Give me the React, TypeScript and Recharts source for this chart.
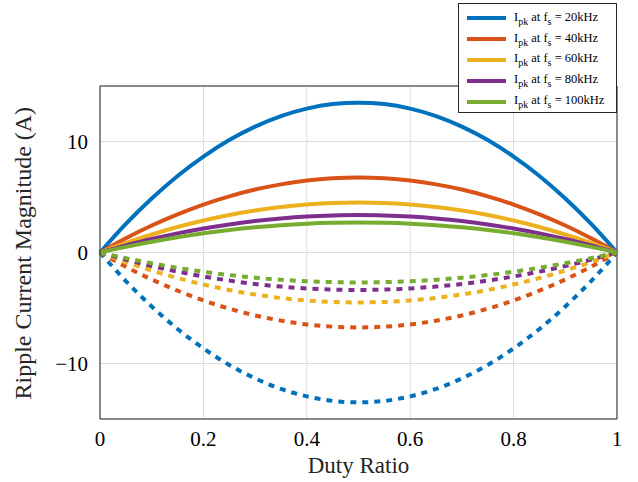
import { CartesianGrid, Legend, Line, LineChart, ReferenceLine, XAxis, YAxis } from "recharts"

const duty = [0, 0.05, 0.1, 0.15, 0.2, 0.25, 0.3, 0.35, 0.4, 0.45, 0.5, 0.55, 0.6, 0.65, 0.7, 0.75, 0.8, 0.85, 0.9, 0.95, 1]

const pk20 = [0, 2.57, 4.86, 6.89, 8.64, 10.13, 11.34, 12.29, 12.96, 13.37, 13.5, 13.37, 12.96, 12.29, 11.34, 10.13, 8.64, 6.89, 4.86, 2.57, 0]
const pk40 = [0, 1.28, 2.43, 3.44, 4.32, 5.06, 5.67, 6.14, 6.48, 6.68, 6.75, 6.68, 6.48, 6.14, 5.67, 5.06, 4.32, 3.44, 2.43, 1.28, 0]
const pk60 = [0, 0.86, 1.62, 2.3, 2.88, 3.38, 3.78, 4.1, 4.32, 4.46, 4.5, 4.46, 4.32, 4.1, 3.78, 3.38, 2.88, 2.3, 1.62, 0.86, 0]
const pk80 = [0, 0.64, 1.22, 1.72, 2.16, 2.53, 2.84, 3.07, 3.24, 3.34, 3.38, 3.34, 3.24, 3.07, 2.84, 2.53, 2.16, 1.72, 1.22, 0.64, 0]
const pk100 = [0, 0.51, 0.97, 1.38, 1.73, 2.03, 2.27, 2.46, 2.59, 2.67, 2.7, 2.67, 2.59, 2.46, 2.27, 2.03, 1.73, 1.38, 0.97, 0.51, 0]

const neg20 = [0, -2.57, -4.86, -6.89, -8.64, -10.13, -11.34, -12.29, -12.96, -13.37, -13.5, -13.37, -12.96, -12.29, -11.34, -10.13, -8.64, -6.89, -4.86, -2.57, 0]
const neg40 = [0, -1.28, -2.43, -3.44, -4.32, -5.06, -5.67, -6.14, -6.48, -6.68, -6.75, -6.68, -6.48, -6.14, -5.67, -5.06, -4.32, -3.44, -2.43, -1.28, 0]
const neg60 = [0, -0.86, -1.62, -2.3, -2.88, -3.38, -3.78, -4.1, -4.32, -4.46, -4.5, -4.46, -4.32, -4.1, -3.78, -3.38, -2.88, -2.3, -1.62, -0.86, 0]
const neg80 = [0, -0.64, -1.22, -1.72, -2.16, -2.53, -2.84, -3.07, -3.24, -3.34, -3.38, -3.34, -3.24, -3.07, -2.84, -2.53, -2.16, -1.72, -1.22, -0.64, 0]
const neg100 = [0, -0.51, -0.97, -1.38, -1.73, -2.03, -2.27, -2.46, -2.59, -2.67, -2.7, -2.67, -2.59, -2.46, -2.27, -2.03, -1.73, -1.38, -0.97, -0.51, 0]

const freqs = ["20kHz", "40kHz", "60kHz", "80kHz", "100kHz"]
const colors = ["#0072BD", "#D95319", "#EDB120", "#7E2F8E", "#77AC30"]
const xTicks = [0, 0.2, 0.4, 0.6, 0.8, 1]
const yTicks = [-10, 0, 10]

const data = duty.map((d, i) => ({
  d,
  p0: pk20[i], p1: pk40[i], p2: pk60[i], p3: pk80[i], p4: pk100[i],
  n0: neg20[i], n1: neg40[i], n2: neg60[i], n3: neg80[i], n4: neg100[i],
}))

const font = "'Liberation Serif', 'Times New Roman', serif"
const axisColor = "#262626"

function LegendBox() {
  const sub = { fontSize: 10, verticalAlign: -4 }
  return (
    <div
      style={{
        position: "absolute", left: 458, top: 3, width: 159, height: 110,
        border: "1px solid #262626", background: "#fff", boxSizing: "border-box",
        fontFamily: font, fontSize: 12.5, color: "#000", paddingTop: 4,
      }}
    >
      {freqs.map((f, i) => (
        <div key={f} style={{ display: "flex", alignItems: "center", height: 20.8, paddingLeft: 8, whiteSpace: "nowrap" }}>
          <span style={{ display: "inline-block", width: 39, height: 4, background: colors[i], marginRight: 8 }} />
          <span>
            I<sub style={sub}>pk</sub> at f<sub style={sub}>s</sub> = {f}
          </span>
        </div>
      ))}
    </div>
  )
}

export default function App() {
  return (
    <div style={{ position: "absolute", left: 0, top: 0, width: 638, height: 482, background: "#fff" }}>
      <LineChart width={638} height={482} data={data} margin={{ top: 86, right: 21, left: 0, bottom: 0 }}>
        <CartesianGrid stroke="#dcdcdc" strokeWidth={1} />
        <XAxis
          dataKey="d" type="number" domain={[0, 1]} ticks={xTicks} height={63}
          stroke={axisColor} tickLine={false} tickMargin={6}
          tick={{ fill: "#000", fontSize: 21, fontFamily: font }}
          label={{ value: "Duty Ratio", position: "insideBottom", offset: 9, fill: "#262626", fontSize: 23, fontFamily: font }}
        />
        <YAxis
          type="number" domain={[-15, 15]} ticks={yTicks} width={100}
          stroke={axisColor} tickLine={false} tickMargin={6}
          tickFormatter={(v: number) => (v < 0 ? "\u2212" + Math.abs(v) : String(v))}
          tick={{ fill: "#000", fontSize: 21, fontFamily: font }}
          label={{ value: "Ripple Current Magnitude (A)", angle: -90, position: "insideLeft", offset: 22, dy: 147, fill: "#262626", fontSize: 24, fontFamily: font }}
        />
        <ReferenceLine y={15} stroke={axisColor} strokeWidth={1} />
        <ReferenceLine x={1} stroke={axisColor} strokeWidth={1} />
        {[0, 1, 2, 3, 4].map((i) => (
          <Line
            key={"n" + i} dataKey={"n" + i} type="monotone" stroke={colors[i]} strokeWidth={4}
            strokeDasharray="6 6" dot={false} legendType="none" isAnimationActive={false}
          />
        ))}
        {[0, 1, 2, 3, 4].map((i) => (
          <Line
            key={"p" + i} dataKey={"p" + i} type="monotone" stroke={colors[i]} strokeWidth={4}
            dot={false} isAnimationActive={false}
          />
        ))}
        <Legend content={() => null} />
      </LineChart>
      <LegendBox />
    </div>
  )
}
